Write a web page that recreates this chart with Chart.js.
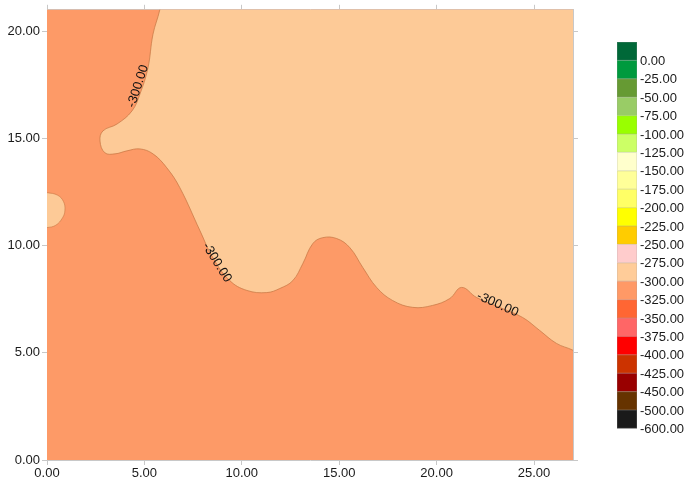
<!DOCTYPE html>
<html>
<head>
<meta charset="utf-8">
<script src="https://cdn.jsdelivr.net/npm/chart.js@4.4.0/dist/chart.umd.min.js"></script>
<style>
  html, body { margin: 0; padding: 0; background: #fff; }
  #wrap { width: 692px; height: 489px; }
</style>
</head>
<body>
<div id="wrap"><canvas id="contour"></canvas></div>
<script>
// ===== Contour map (-300 level) =====
// Two filled bands plus a colour key drawn by a small plugin.

const xTicks = [0, 5, 10, 15, 20, 25];
const yTicks = [0, 5, 10, 15, 20];

// -300 contour line; the -300..-275 band lies above/right of it
const edgeX = [5.85, 5.79, 5.44, 5.18, 4.77, 4.36, 3.59, 2.87, 2.72, 2.97, 3.49, 4.10, 4.77, 5.44, 6.15, 6.82,
  7.85, 8.51, 9.38, 10.26, 11.28, 11.95, 12.62, 13.13, 13.64, 14.15, 14.87, 15.54, 16.21, 16.92, 17.74,
  18.77, 19.79, 20.67, 21.28, 22.05, 23.23, 24.41, 25.28, 26.15, 27.0, 27.5, 27.5];
const edgeY = [21.5, 21.0, 19.86, 18.28, 17.07, 16.28, 15.67, 15.35, 14.88, 14.33, 14.28, 14.42, 14.51, 14.28, 13.63, 12.7,
  10.7, 9.44, 8.37, 7.91, 7.81, 8.0, 8.37, 9.16, 10.09, 10.37, 10.33, 9.91, 8.98, 8.05, 7.44,
  7.12, 7.21, 7.53, 8.05, 7.58, 7.12, 6.65, 6.05, 5.44, 5.12, 4.85, 21.5];

// small pocket of the same band on the left edge
const islandX = [-0.3, 0.0, 0.45, 0.8, 0.92, 0.85, 0.55, 0.0, -0.3];
const islandY = [10.84, 10.84, 10.95, 11.3, 11.65, 12.05, 12.35, 12.47, 12.47];

// whole domain (the -325..-300 band underneath)
const domainX = [-1, 28, 28, -1];
const domainY = [-1, -1, 22, 22];

// contour labels
const tagX = [4.67, 8.72, 23.13];
const tagY = [17.44, 9.21, 7.26];
const tagText = ['-300.00', '-300.00', '-300.00'];

// colour key
const levelLabels = ['0.00', '-25.00', '-50.00', '-75.00', '-100.00', '-125.00', '-150.00', '-175.00',
  '-200.00', '-225.00', '-250.00', '-275.00', '-300.00', '-325.00', '-350.00', '-375.00', '-400.00',
  '-425.00', '-450.00', '-500.00', '-600.00'];
const levelColors = ['#006838', '#009a3e', '#669a33', '#99cc66', '#99ff00', '#ccff66', '#ffffcc', '#ffff99',
  '#ffff66', '#ffff00', '#ffcc00', '#ffcccc', '#ffcc99', '#ff9966', '#ff6633', '#ff6666', '#ff0000',
  '#cc3300', '#990000', '#663300', '#1a1a1a'];

const pts = (xs, ys) => xs.map((x, i) => ({ x, y: ys[i] }));

const AXIS_GREY = '#c8c8c8';
const TEXT = '#1a1a1a';
const FONT = 'Arial, "Liberation Sans", sans-serif';

// ---- plugins ----

const contourTags = {
  id: 'contourTags',
  afterDatasetsDraw(chart) {
    const { ctx, scales: { x, y }, chartArea } = chart;
    const angles = [-72, 58, 24];
    ctx.save();
    ctx.beginPath();
    ctx.rect(chartArea.left, chartArea.top, chartArea.width, chartArea.height);
    ctx.clip();
    ctx.font = '13px ' + FONT;
    ctx.fillStyle = '#111';
    ctx.textAlign = 'center';
    ctx.textBaseline = 'middle';
    tagText.forEach((t, i) => {
      ctx.save();
      ctx.translate(x.getPixelForValue(tagX[i]), y.getPixelForValue(tagY[i]));
      ctx.rotate(angles[i] * Math.PI / 180);
      ctx.fillText(t, 0, 0);
      ctx.restore();
    });
    ctx.restore();
  },
};

const colourKey = {
  id: 'colourKey',
  afterDraw(chart) {
    const { ctx } = chart;
    const left = 617, top = 42, w = 20, h = 18.4;
    ctx.save();
    levelColors.forEach((c, i) => {
      ctx.fillStyle = c;
      ctx.fillRect(left, top + i * h, w, h);
      ctx.strokeStyle = 'rgba(160,160,160,0.35)';
      ctx.lineWidth = 0.6;
      ctx.strokeRect(left + 0.3, top + i * h + 0.3, w - 0.6, h - 0.6);
    });
    ctx.font = '13px ' + FONT;
    ctx.fillStyle = TEXT;
    ctx.textAlign = 'left';
    ctx.textBaseline = 'middle';
    levelLabels.forEach((t, i) => {
      ctx.fillText(t, left + 23, top + (i + 1) * h + 1);
    });
    ctx.restore();
  },
};

// ---- chart ----

function fixedTicks(list) {
  return (scale) => { scale.ticks = list.map((v) => ({ value: v })); };
}

const tickFont = { family: FONT, size: 13 };

// datasets are painted last-to-first, so the base band goes at the end
new Chart(document.getElementById('contour'), {
  type: 'scatter',
  data: {
    datasets: [
      {
        data: pts(edgeX, edgeY),
        showLine: true,
        fill: 'shape',
        backgroundColor: '#fdca97',
        borderColor: 'rgba(200,120,70,0.75)',
        borderWidth: 1,
        pointRadius: 0,
        tension: 0.4,
      },
      {
        data: pts(islandX, islandY),
        showLine: true,
        fill: 'shape',
        backgroundColor: '#fdca97',
        borderColor: 'rgba(200,120,70,0.6)',
        borderWidth: 1,
        pointRadius: 0,
        tension: 0.4,
      },
      {
        data: pts(domainX, domainY),
        showLine: true,
        fill: 'shape',
        backgroundColor: '#fd9a67',
        borderWidth: 0,
        pointRadius: 0,
        tension: 0,
      },
    ],
  },
  options: {
    responsive: true,
    maintainAspectRatio: false,
    animation: false,
    layout: { padding: 0 },
    plugins: {
      legend: { display: false },
      tooltip: { enabled: false },
    },
    scales: {
      x: {
        type: 'linear', position: 'bottom', min: 0, max: 27,
        afterBuildTicks: fixedTicks(xTicks),
        ticks: { callback: (v) => v.toFixed(2), font: tickFont, color: TEXT, padding: 1, maxRotation: 0 },
        grid: { drawOnChartArea: false, tickLength: 5, color: AXIS_GREY },
        border: { color: AXIS_GREY },
        afterFit: (s) => { s.height = 29; },
      },
      xTop: {
        type: 'linear', position: 'top', min: 0, max: 27,
        afterBuildTicks: fixedTicks(xTicks),
        ticks: { display: false },
        grid: { drawOnChartArea: false, tickLength: 5, color: AXIS_GREY },
        border: { color: AXIS_GREY },
        afterFit: (s) => { s.height = 8; },
      },
      y: {
        type: 'linear', position: 'left', min: 0, max: 21,
        afterBuildTicks: fixedTicks(yTicks),
        ticks: { callback: (v) => v.toFixed(2), font: tickFont, color: TEXT, padding: 2 },
        grid: { drawOnChartArea: false, tickLength: 5, color: AXIS_GREY },
        border: { color: AXIS_GREY },
        afterFit: (s) => { s.width = 47; },
      },
      yRight: {
        type: 'linear', position: 'right', min: 0, max: 21,
        afterBuildTicks: fixedTicks(yTicks),
        ticks: { display: false },
        grid: { drawOnChartArea: false, tickLength: 5, color: AXIS_GREY },
        border: { color: AXIS_GREY },
        afterFit: (s) => { s.width = 119; },
      },
    },
  },
  plugins: [contourTags, colourKey],
});
</script>
</body>
</html>
